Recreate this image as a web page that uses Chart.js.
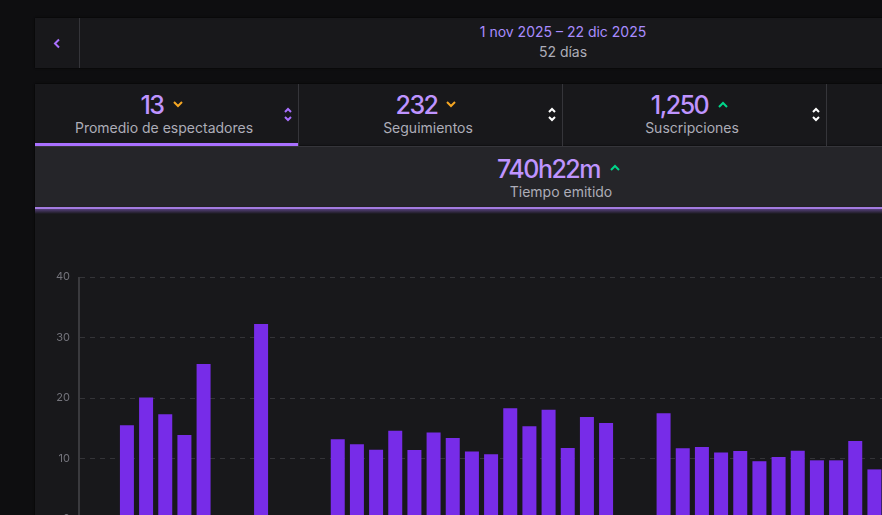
<!DOCTYPE html>
<html lang="es">
<head>
<meta charset="utf-8">
<title>Tiempo emitido</title>
<script src="https://cdn.jsdelivr.net/npm/chart.js@4/dist/chart.umd.min.js"></script>
<style>
html, body { margin: 0; width: 882px; height: 515px; overflow: hidden; background: #0e0e10; font-family: Inter, sans-serif; }
#page { position: absolute; left: 0; top: 0; width: 882px; height: 515px; overflow: hidden; }
.panel { position: absolute; left: 35px; width: 900px; background: #18181b; box-shadow: 0 0 2px #000; }
.vline { position: absolute; width: 1px; background: #35353a; }
.txt { position: absolute; transform: translateX(-50%); white-space: nowrap; }
.big { font-size: 25px; font-weight: 500; line-height: 32px; letter-spacing: -1.5px; color: #bf94ff; }
.lab { font-size: 14px; line-height: 18px; color: #adadb8; }
svg { position: absolute; fill: none; stroke-width: 2; }
#chartBox { position: absolute; left: 35px; top: 213px; }
</style>
</head>
<body>
<div id="page">
  <div class="panel" style="top:18px;height:50px"></div>
  <div class="vline" style="left:79px;top:18px;height:50px"></div>
  <svg style="left:52px;top:38px" width="10" height="11" stroke="#a970ff"><path d="M7 1.5L3 5.5L7 9.5"/></svg>
  <div class="txt" style="left:563px;top:23px;font-size:14px;line-height:18px;color:#a98cff">1 nov 2025 – 22 dic 2025</div>
  <div class="txt lab" style="left:563px;top:43px">52 días</div>

  <div class="panel" style="top:84px;height:62px"></div>
  <div class="panel" style="top:146px;height:62px;background:#252529;border-top:1px solid #35353a;box-sizing:border-box"></div>
  <div class="panel" style="top:208px;height:320px"></div>
  <div style="position:absolute;left:35px;top:207px;width:900px;height:2px;background:#a37be0"></div>
  <div style="position:absolute;left:35px;top:209px;width:900px;height:5px;background:linear-gradient(#55407a,#18181b)"></div>

  <div class="vline" style="left:298px;top:84px;height:62px"></div>
  <div class="vline" style="left:562px;top:84px;height:62px"></div>
  <div class="vline" style="left:826px;top:84px;height:62px"></div>
  <div style="position:absolute;left:35px;top:143px;width:263px;height:3px;background:#a970ff"></div>

  <div class="txt big" style="left:152px;top:89px">13</div>
  <svg style="left:172px;top:100px" width="12" height="9" stroke="#f5a623"><path d="M2 2L6 6L10 2"/></svg>
  <div class="txt lab" style="left:164px;top:119px">Promedio de espectadores</div>
  <svg style="left:283px;top:107px" width="10" height="15" stroke="#a970ff"><path d="M2 5L5 2L8 5M2 10L5 13L8 10"/></svg>

  <div class="txt big" style="left:416.5px;top:89px">232</div>
  <svg style="left:445px;top:100px" width="12" height="9" stroke="#f5a623"><path d="M2 2L6 6L10 2"/></svg>
  <div class="txt lab" style="left:428px;top:119px">Seguimientos</div>
  <svg style="left:547px;top:107px" width="10" height="15" stroke="#ffffff"><path d="M2 5L5 2L8 5M2 10L5 13L8 10"/></svg>

  <div class="txt big" style="left:679.5px;top:89px">1,250</div>
  <svg style="left:717px;top:100px" width="12" height="9" stroke="#00d68a"><path d="M2 7L6 3L10 7"/></svg>
  <div class="txt lab" style="left:692px;top:119px">Suscripciones</div>
  <svg style="left:811px;top:107px" width="10" height="15" stroke="#ffffff"><path d="M2 5L5 2L8 5M2 10L5 13L8 10"/></svg>

  <div class="txt big" style="left:548.5px;top:153px">740h22m</div>
  <svg style="left:609px;top:163px" width="12" height="9" stroke="#00d68a"><path d="M2 7L6 3L10 7"/></svg>
  <div class="txt lab" style="left:561px;top:183px">Tiempo emitido</div>

  <div id="chartBox"><canvas id="grafica" width="849" height="340"></canvas></div>
</div>

<script>
var dias = ["1 nov","2 nov","3 nov","4 nov","5 nov","6 nov","7 nov","8 nov","9 nov","10 nov",
  "11 nov","12 nov","13 nov","14 nov","15 nov","16 nov","17 nov","18 nov","19 nov","20 nov",
  "21 nov","22 nov","23 nov","24 nov","25 nov","26 nov","27 nov","28 nov","29 nov","30 nov",
  "1 dic","2 dic","3 dic","4 dic","5 dic","6 dic","7 dic","8 dic","9 dic","10 dic","11 dic","12 dic"];

var promedio = [null,null,15.5,20.1,17.3,13.9,25.6,null,null,32.25,
  null,null,null,13.2,12.35,11.45,14.6,11.4,14.3,13.4,
  11.15,10.7,18.3,15.35,18.05,11.75,16.85,15.85,null,null,
  17.5,11.7,11.9,11,11.25,9.55,10.25,11.3,9.7,9.7,12.9,8.2];

var ticksY = [0,10,20,30,40];

new Chart(document.getElementById("grafica"), {
  type: "bar",
  data: {
    labels: dias,
    datasets: [{
      label: "Promedio de espectadores",
      data: promedio,
      backgroundColor: "#772ce8",
      categoryPercentage: 1,
      barPercentage: 0.73
    }]
  },
  options: {
    responsive: false,
    animation: false,
    devicePixelRatio: 1,
    layout: { padding: { top: 64, bottom: 26, left: 0, right: 0 } },
    plugins: { legend: { display: false }, tooltip: { enabled: false } },
    scales: {
      x: {
        ticks: { display: false },
        grid: { display: false },
        border: { display: false }
      },
      y: {
        min: 0,
        max: 40,
        afterFit: function(scale) { scale.width = 44; },
        afterBuildTicks: function(scale) { scale.ticks = ticksY.map(function(v) { return { value: v }; }); },
        ticks: { color: "#73737b", font: { family: "Inter", size: 11 }, padding: 9 },
        grid: { color: "#343438", drawTicks: false, lineWidth: 1 },
        border: { display: true, color: "#3a3a3e", dash: [5, 5] }
      }
    }
  },
  plugins: [{
    id: "ejeSolido",
    afterDraw: function(chart) {
      var ctx = chart.ctx, a = chart.chartArea;
      ctx.save();
      ctx.strokeStyle = "#3a3a3e";
      ctx.beginPath();
      ctx.moveTo(Math.floor(a.left) - 0.5, a.top);
      ctx.lineTo(Math.floor(a.left) - 0.5, a.bottom);
      ctx.stroke();
      ctx.restore();
    }
  }]
});
</script>
</body>
</html>
